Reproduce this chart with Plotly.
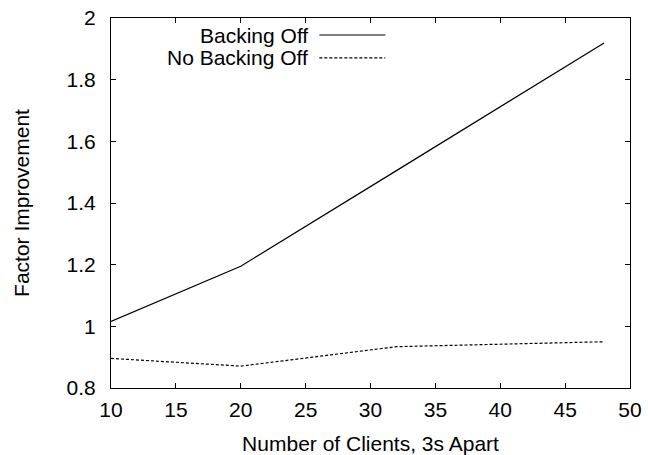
import plotly.graph_objects as go

# Number of clients started 3 s apart
clients_backoff = [10, 20, 32, 40, 48]
improve_backoff = [1.016, 1.195, 1.505, 1.712, 1.919]

clients_nobackoff = [10, 20, 32, 40, 48]
improve_nobackoff = [0.896, 0.871, 0.934, 0.942, 0.950]

series_names = ["Backing Off", "No Backing Off"]
x_ticks = [10, 15, 20, 25, 30, 35, 40, 45, 50]
y_ticks = [0.8, 1.0, 1.2, 1.4, 1.6, 1.8, 2.0]

FONT = "Liberation Sans, Arial, Helvetica, sans-serif"
FS = 21

fig = go.Figure()
fig.add_trace(go.Scatter(x=clients_backoff, y=improve_backoff, mode="lines",
                         name=series_names[0],
                         line=dict(color="black", width=1.2)))
fig.add_trace(go.Scatter(x=clients_nobackoff, y=improve_nobackoff, mode="lines",
                         name=series_names[1],
                         line=dict(color="black", width=1.2, dash="3px,2px")))

# gnuplot-style key: right-aligned label followed by a line sample
key_rows = [(0.954, "solid"), (0.892, "3px,2px")]
for (ky, dash), name in zip(key_rows, series_names):
    fig.add_annotation(xref="paper", yref="paper", x=0.384, y=ky,
                       text=name, showarrow=False, xanchor="right",
                       yanchor="middle", font=dict(size=FS, color="black", family=FONT))
    fig.add_shape(type="line", xref="paper", yref="paper",
                  x0=0.4014, x1=0.5285, y0=ky, y1=ky,
                  line=dict(color="black", width=1.2, dash=dash))

axis_common = dict(showgrid=False, zeroline=False, showline=True,
                   linecolor="black", linewidth=1.2, mirror="ticks",
                   ticks="inside", ticklen=5, tickcolor="black", tickwidth=1,
                   automargin=False,
                   tickfont=dict(size=FS, color="black", family=FONT))

fig.update_xaxes(range=[10, 50], tickvals=x_ticks,
                 ticktext=[str(v) for v in x_ticks],
                 title=dict(text="Number of Clients, 3s Apart",
                            font=dict(size=FS, color="black", family=FONT),
                            standoff=16),
                 ticklabelstandoff=3, **axis_common)
fig.update_yaxes(range=[0.8, 2.0], tickvals=y_ticks,
                 ticktext=["0.8", "1", "1.2", "1.4", "1.6", "1.8", "2"],
                 title=dict(text="Factor Improvement",
                            font=dict(size=FS, color="black", family=FONT),
                            standoff=31),
                 ticklabelstandoff=10, **axis_common)

fig.update_layout(width=648, height=455,
                  margin=dict(l=111, r=18, t=18, b=67),
                  plot_bgcolor="white", paper_bgcolor="white",
                  showlegend=False,
                  font=dict(family=FONT, size=FS, color="black"))

fig.write_html("out.html")
